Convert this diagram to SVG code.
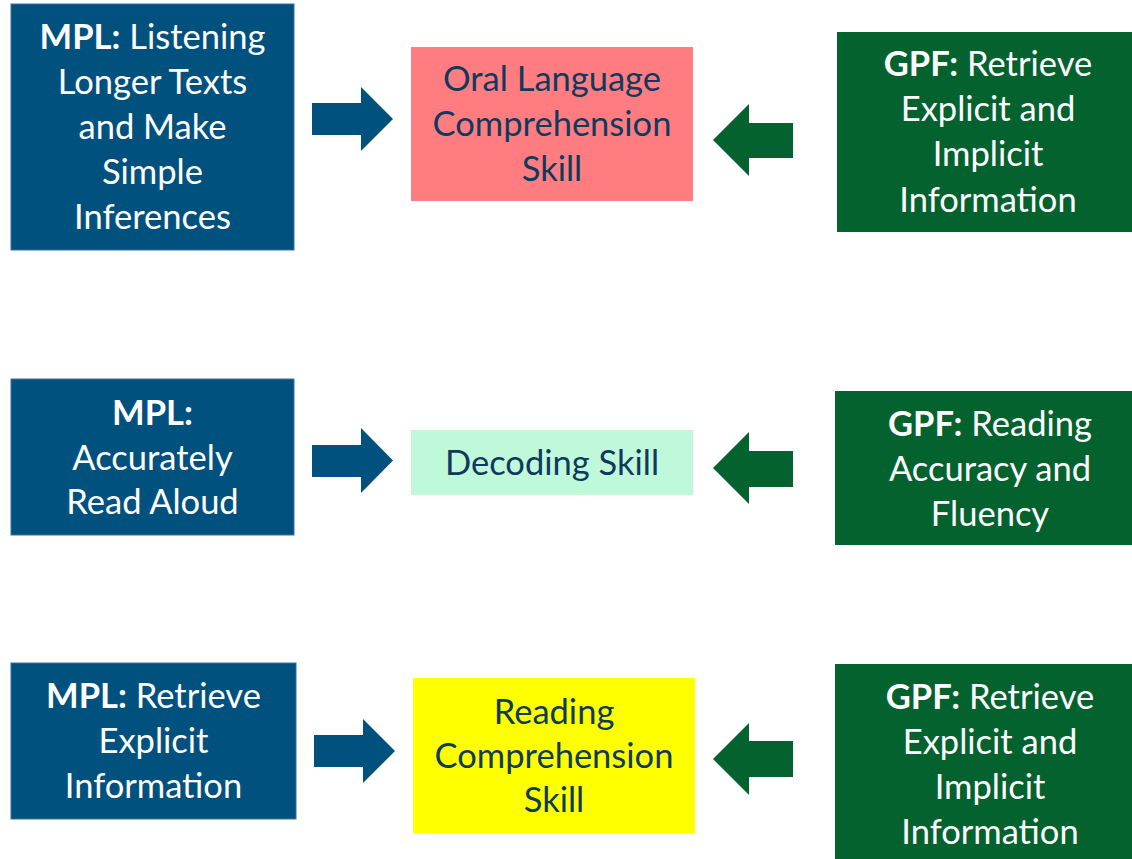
<svg xmlns="http://www.w3.org/2000/svg" width="1132" height="859" viewBox="0 0 1132 859">
<style>
text{font-family:Lato,"Open Sans","Liberation Sans",sans-serif;font-size:34.5px;text-anchor:middle}
.mpl rect{fill:#01517f;stroke:#3c7099;stroke-width:1}
.gpf rect{fill:#04622f}
.mpl text,.gpf text{fill:#ffffff}
.skill text{fill:#0e3a5e}
.b{font-weight:bold}
.ba{fill:#01517f}
.ga{fill:#04622f}
</style>
<rect width="1132" height="859" fill="#ffffff"/>
<g id="mpl1" class="mpl"><rect x="11" y="4" width="283" height="246"/>
<text x="152.5" y="49"><tspan class="b">MPL:</tspan> Listening</text>
<text x="152.5" y="94">Longer Texts</text>
<text x="152.5" y="139">and Make</text>
<text x="152.5" y="184">Simple</text>
<text x="152.5" y="229">Inferences</text></g>
<g id="oral" class="skill"><rect x="411" y="47" width="282" height="154" fill="#ff7c80"/>
<text x="552" y="91">Oral Language</text>
<text x="552" y="136">Comprehension</text>
<text x="552" y="181">Skill</text></g>
<g id="gpf1" class="gpf"><rect x="837" y="32" width="302" height="200"/>
<text x="988" y="76"><tspan class="b">GPF:</tspan> Retrieve</text>
<text x="988" y="121">Explicit and</text>
<text x="988" y="166">Implicit</text>
<text x="988" y="212">Information</text></g>
<g id="mpl2" class="mpl"><rect x="11" y="379" width="283" height="156"/>
<text x="152.5" y="425" class="b">MPL:</text>
<text x="152.5" y="470">Accurately</text>
<text x="152.5" y="514">Read Aloud</text></g>
<g id="decoding" class="skill"><rect x="411" y="430" width="282" height="65" fill="#c0f8da"/>
<text x="552" y="475">Decoding Skill</text></g>
<g id="gpf2" class="gpf"><rect x="835" y="391" width="306" height="154"/>
<text x="990" y="436"><tspan class="b">GPF:</tspan> Reading</text>
<text x="990" y="481">Accuracy and</text>
<text x="990" y="526">Fluency</text></g>
<g id="mpl3" class="mpl"><rect x="11" y="663" width="285" height="156"/>
<text x="153.5" y="708"><tspan class="b">MPL:</tspan> Retrieve</text>
<text x="153.5" y="753">Explicit</text>
<text x="153.5" y="798">Information</text></g>
<g id="reading" class="skill"><rect x="413" y="678" width="282" height="155" fill="#ffff00"/>
<text x="554" y="724">Reading</text>
<text x="554" y="768">Comprehension</text>
<text x="554" y="812">Skill</text></g>
<g id="gpf3" class="gpf"><rect x="835" y="664" width="306" height="195"/>
<text x="990" y="709"><tspan class="b">GPF:</tspan> Retrieve</text>
<text x="990" y="754">Explicit and</text>
<text x="990" y="799">Implicit</text>
<text x="990" y="844">Information</text></g>
<g id="connectors">
<polygon class="ba" points="312,103 361,103 361,87 393,119 361,151 361,135 312,135"/>
<polygon class="ga" points="793,123 749,123 749,104 713,140 749,176 749,158 793,158"/>
<polygon class="ba" points="312,445 361,445 361,428 393,460.5 361,493 361,477 312,477"/>
<polygon class="ga" points="793,451 749,451 749,432 713,468 749,504 749,487 793,487"/>
<polygon class="ba" points="314,735 363,735 363,719 395,751 363,783 363,767 314,767"/>
<polygon class="ga" points="793,741 749,741 749,723 713,759 749,795 749,777 793,777"/>
</g>
</svg>
